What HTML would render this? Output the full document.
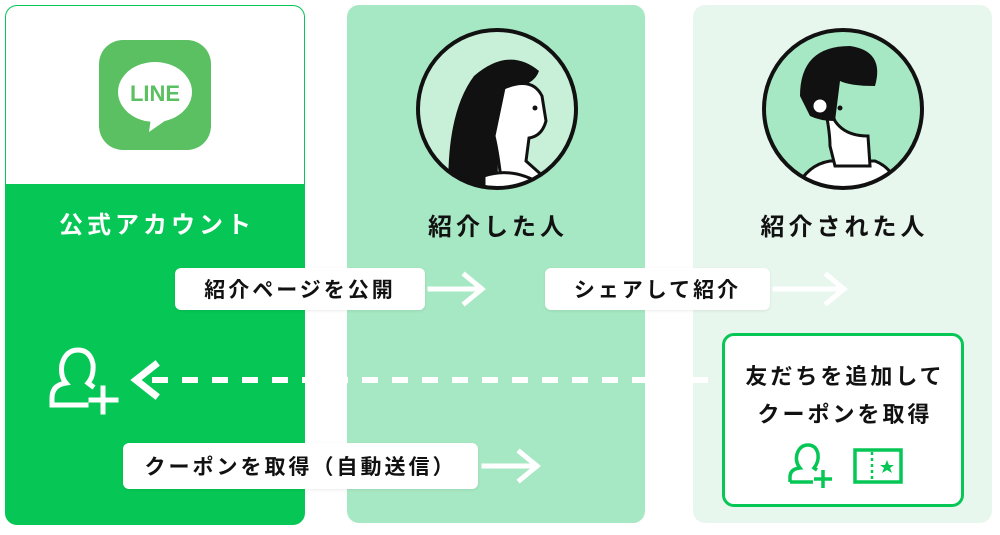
<!DOCTYPE html>
<html><head><meta charset="utf-8">
<style>
body{margin:0;width:1000px;height:535px;background:#fff;position:relative;overflow:hidden;font-family:"Liberation Sans","Noto Sans CJK JP",sans-serif;font-weight:bold;}
.abs{position:absolute}
.col{position:absolute;top:5px;height:518px;border-radius:12px;}
.lbl{position:absolute;background:#fff;border-radius:6px;color:#111;font-size:21px;letter-spacing:3px;display:flex;align-items:center;justify-content:center;box-shadow:0 1px 3px rgba(0,0,0,.08)}
.title{position:absolute;font-size:24px;text-align:center;letter-spacing:4px}
</style></head><body>
<div class="col" style="left:5px;width:298px;background:#06C755;border:1px solid #06C755;overflow:hidden">
  <div style="height:178px;background:#fff"></div>
</div>
<div class="col" style="left:347px;width:298px;background:#A6E8C3"></div>
<div class="col" style="left:693px;width:299px;background:#E8F7EE"></div>

<div class="abs" style="left:99px;top:40px;width:112px;height:110px;background:#5BC062;border-radius:24px"></div>
<svg class="abs" style="left:99px;top:40px" width="112" height="110">
<ellipse cx="56" cy="52" rx="37" ry="30" fill="#fff"/>
<path d="M52 78 L50 92 L70 78Z" fill="#fff"/>
<text x="56" y="61" font-size="22" font-weight="bold" fill="#5BC062" text-anchor="middle" font-family="Liberation Sans">LINE</text>
</svg>

<div class="title" style="left:7px;width:300px;top:205px;color:#fff">公式アカウント</div>
<div class="title" style="left:349px;width:298px;top:207px;color:#111">紹介した人</div>
<div class="title" style="left:695px;width:299px;top:207px;color:#111">紹介された人</div>

<svg class="abs" style="left:414px;top:26px" width="166" height="166">
<defs><clipPath id="c1"><circle cx="83" cy="83" r="79"/></clipPath></defs>
<circle cx="83" cy="83" r="79" fill="#C8F0D8"/>
<g clip-path="url(#c1)">
<path d="M35 180 Q30 90 60 50 Q95 20 125 45 Q120 60 95 62 Q80 110 85 180Z" fill="#111"/>
<path d="M90 62 Q118 50 128 70 L132 95 Q128 110 115 112 L112 135 L140 160 L90 180 Q85 130 80 110Z" fill="#fff" stroke="#111" stroke-width="3"/>
<path d="M70 150 Q100 140 130 160 L130 180 L70 180Z" fill="#fff" stroke="#111" stroke-width="3"/>
<circle cx="121" cy="82" r="2.5" fill="#111"/>
</g>
<circle cx="83" cy="83" r="79" fill="none" stroke="#111" stroke-width="4"/>
</svg>
<svg class="abs" style="left:760px;top:26px" width="166" height="166">
<defs><clipPath id="c2"><circle cx="83" cy="83" r="79"/></clipPath></defs>
<circle cx="83" cy="83" r="79" fill="#A6E8C3"/>
<g clip-path="url(#c2)">
<path d="M30 180 Q40 140 70 135 L115 135 Q140 145 140 180Z" fill="#fff" stroke="#111" stroke-width="3"/>
<path d="M60 60 Q70 100 70 120 L75 140 L110 140 L108 110 Q85 110 75 95Z" fill="#fff" stroke="#111" stroke-width="3"/>
<path d="M40 70 Q40 20 90 20 Q125 25 115 60 Q90 60 80 55 L75 95 Q60 95 50 90Z" fill="#111"/>
<circle cx="60" cy="80" r="8" fill="#fff" stroke="#111" stroke-width="3"/>
<circle cx="80" cy="82" r="2.5" fill="#111"/>
</g>
<circle cx="83" cy="83" r="79" fill="none" stroke="#111" stroke-width="4"/>
</svg>

<div class="lbl" style="left:175px;top:268px;width:250px;height:42px">紹介ページを公開</div>
<div class="lbl" style="left:545px;top:268px;width:225px;height:42px">シェアして紹介</div>
<div class="lbl" style="left:123px;top:443px;width:355px;height:46px">クーポンを取得（自動送信）</div>

<svg class="abs" style="left:0;top:0" width="1000" height="535">
<g stroke="#fff" stroke-width="5" fill="none" stroke-linecap="square">
<line x1="430" y1="289" x2="480" y2="289"/><polyline points="465,275 482,289 465,303"/>
<line x1="775" y1="289" x2="843" y2="289"/><polyline points="827,275 844,289 827,303"/>
<line x1="484" y1="466" x2="536" y2="466"/><polyline points="520,452 537,466 520,480"/>
<polyline points="155,365 136,380 155,395" stroke-width="7"/>
<line x1="152" y1="380" x2="720" y2="380" stroke-dasharray="16 14" stroke-width="6" stroke-linecap="butt"/>
<path d="M52 405 L52 398 Q52 385 66 383 Q60 376 62 364 Q66 350 78 350 Q90 350 93 364 Q94 376 88 383 L92 386" stroke-width="5"/>
<line x1="52" y1="405" x2="86" y2="405"/>
<line x1="103" y1="388" x2="103" y2="412"/><line x1="91" y1="400" x2="116" y2="400"/>
</g>
</svg>

<div class="abs" style="left:722px;top:333px;width:236px;height:168px;background:#fff;border:3px solid #06C755;border-radius:12px"></div>
<div class="abs" style="left:724px;top:358px;width:242px;text-align:center;font-size:22px;letter-spacing:3px;line-height:38px;color:#111">友だちを追加して<br>クーポンを取得</div>
<svg class="abs" style="left:780px;top:440px" width="130" height="50">
<g stroke="#06C755" stroke-width="3.5" fill="none">
<path d="M10 42 L10 37 Q10 29 20 28 Q15 22 17 14 Q20 5 28 5 Q36 5 38 14 Q39 22 34 28 L37 30"/>
<line x1="10" y1="42" x2="33" y2="42"/>
<line x1="43" y1="30" x2="43" y2="48"/><line x1="34" y1="39" x2="52" y2="39"/>
<rect x="75" y="10" width="46" height="32"/>
<line x1="92" y1="12" x2="92" y2="40" stroke-dasharray="3 3" stroke-width="2.5"/>
</g>
<polygon points="107,20 109,25 114,25 110,28 112,33 107,30 102,33 104,28 100,25 105,25" fill="#06C755"/>
</svg>
</body></html>
